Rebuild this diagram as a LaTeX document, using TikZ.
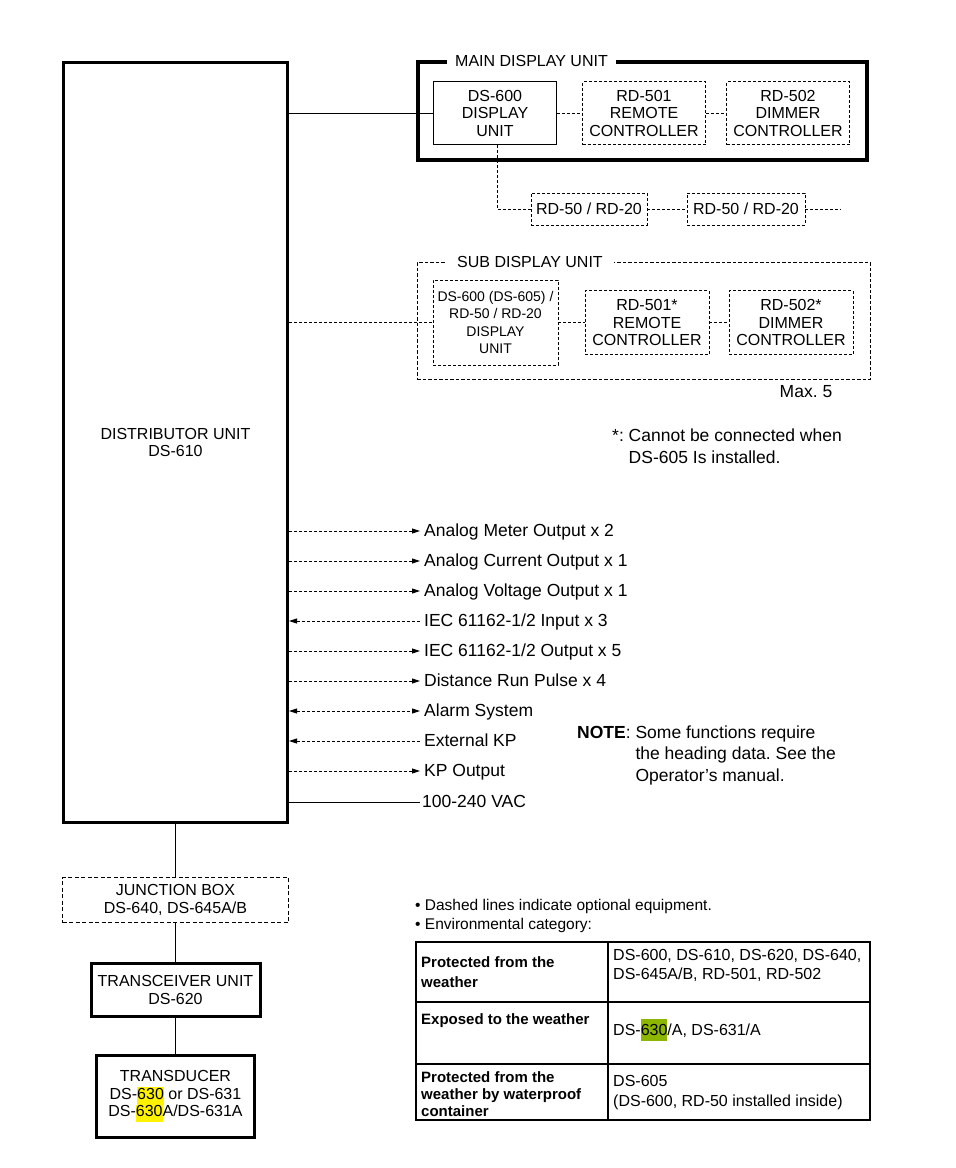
\documentclass[tikz,border=0pt]{standalone}
\usepackage{fontspec}
\setmainfont{Liberation Sans}
\frenchspacing
\usetikzlibrary{positioning,calc,arrows.meta}
\definecolor{hlgreen}{RGB}{141,182,0}
\newcommand{\hlyel}[1]{{\setlength{\fboxsep}{0pt}\colorbox{yellow}{\strut#1}}}
\newcommand{\hlgrn}[1]{{\setlength{\fboxsep}{0pt}\colorbox{hlgreen}{\rule[-6pt]{0pt}{22pt}#1}}}

\begin{document}
\begin{tikzpicture}[x=1pt,y=-1pt,
  >={Triangle[length=8pt,width=5pt]},
  boxtxt/.style={font=\fontsize{16}{17.5}\selectfont, align=center, inner sep=0pt},
  heavybox/.style={draw, line width=3pt, boxtxt},
  thinbox/.style={draw, line width=0.9pt, boxtxt},
  optbox/.style={draw, line width=0.9pt, dash pattern=on 3pt off 2pt, boxtxt},
  optline/.style={line width=0.9pt, dash pattern=on 3pt off 2pt},
  solidline/.style={line width=1pt},
  grptitle/.style={fill=white, inner ysep=3pt, font=\fontsize{16}{17.5}\selectfont},
  sigtxt/.style={font=\fontsize{17.5}{21}\selectfont, anchor=west, inner xsep=4pt, inner ysep=0pt, text height=12pt, text depth=1pt},
  notetxt/.style={font=\fontsize{17.5}{21.5}\selectfont, anchor=west, align=left, inner sep=0pt},
  cellhead/.style={font=\bfseries\fontsize{15}{20}\selectfont, anchor=west, align=left, inner sep=0pt},
  celltxt/.style={font=\fontsize{16}{19}\selectfont, anchor=west, align=left, inner sep=0pt}
]
\useasboundingbox (0,0) rectangle (956,1168);

% distributor
\node[heavybox, minimum width=224, minimum height=760] (dist) at (175.5,442.5) {DISTRIBUTOR UNIT\\DS-610};

% main display unit
\node[draw, line width=3.5pt, minimum width=449, minimum height=98] (maingrp) at (642.5,111) {};
\node[grptitle, inner xsep=8pt] (maintitle) at (531.5,61) {MAIN DISPLAY UNIT};
\node[thinbox, minimum width=123, minimum height=63] (ds600) at (495,113) {DS-600\\DISPLAY\\UNIT};
\node[optbox, minimum width=123, minimum height=63] (rd501) at (644,113) {RD-501\\REMOTE\\CONTROLLER};
\node[optbox, minimum width=123, minimum height=63] (rd502) at (788,113) {RD-502\\DIMMER\\CONTROLLER};
\draw[solidline] (dist.east |- ds600.west) -- (ds600);
\draw[optline] (ds600) -- (rd501);
\draw[optline] (rd501) -- (rd502);

% repeaters
\node[optbox, minimum width=116, minimum height=32] (rd50a) at (589,209) {RD-50 / RD-20};
\node[optbox, minimum width=118, minimum height=32] (rd50b) at (746,209) {RD-50 / RD-20};
\coordinate (rdmore) at (841,209);
\draw[optline] ([xshift=2pt]ds600.south) |- (rd50a.west);
\draw[optline] (rd50a) -- (rd50b);
\draw[optline] (rd50b) -- (rdmore);

% sub display unit
\node[draw, line width=0.9pt, dash pattern=on 3.5pt off 2pt, minimum width=453, minimum height=117] (subgrp) at (643.5,320.5) {};
\node[grptitle, inner xsep=11pt] (subtitle) at (530,262) {SUB DISPLAY UNIT};
\node[optbox, font=\fontsize{14}{17.6}\selectfont, minimum width=125, minimum height=85] (subds) at (495.5,322.5) {DS-600 (DS-605) /\\RD-50 / RD-20\\DISPLAY\\UNIT};
\node[optbox, minimum width=124, minimum height=64] (subrd501) at (647,322.5) {RD-501*\\REMOTE\\CONTROLLER};
\node[optbox, minimum width=124, minimum height=64] (subrd502) at (791,322.5) {RD-502*\\DIMMER\\CONTROLLER};
\draw[optline] (dist.east |- subds.west) -- (subds);
\draw[optline] (subds) -- (subrd501);
\draw[optline] (subrd501) -- (subrd502);
\node[notetxt, anchor=center] (maxfive) at (806,392) {Max. 5};
\node[notetxt] (starnote) at (612,446) {*: Cannot be connected when\\\phantom{*: }DS-605 Is installed.};

% signals
\node[sigtxt] (meter) at (420,531) {Analog Meter Output x 2};
\node[sigtxt] (current) at (420,561) {Analog Current Output x 1};
\node[sigtxt] (voltage) at (420,591) {Analog Voltage Output x 1};
\node[sigtxt] (iecin) at (420,621) {IEC 61162-1/2 Input x 3};
\node[sigtxt] (iecout) at (420,651) {IEC 61162-1/2 Output x 5};
\node[sigtxt] (pulse) at (420,681) {Distance Run Pulse x 4};
\node[sigtxt] (alarm) at (420,711) {Alarm System};
\node[sigtxt] (extkp) at (420,741) {External KP};
\node[sigtxt] (kpout) at (420,771) {KP Output};
\node[sigtxt, inner xsep=2pt] (power) at (420,802) {100-240 VAC};
\draw[optline, ->] (dist.east |- meter.west) -- (meter);
\draw[optline, ->] (dist.east |- current.west) -- (current);
\draw[optline, ->] (dist.east |- voltage.west) -- (voltage);
\draw[optline, <-] (dist.east |- iecin.west) -- (iecin);
\draw[optline, ->] (dist.east |- iecout.west) -- (iecout);
\draw[optline, ->] (dist.east |- pulse.west) -- (pulse);
\draw[optline, <->] (dist.east |- alarm.west) -- (alarm);
\draw[optline, <-] (dist.east |- extkp.west) -- (extkp);
\draw[optline, ->] (dist.east |- kpout.west) -- (kpout);
\draw[solidline] (dist.east |- power.west) -- (power);

\node[notetxt] (note) at (577,755) {\textbf{NOTE}: Some functions require\\\phantom{\textbf{NOTE}: }the heading data. See the\\\phantom{\textbf{NOTE}: }Operator’s manual.};

% sensor chain
\node[optbox, line width=1.5pt, dash pattern=on 4pt off 2.5pt, minimum width=226, minimum height=45] (junction) at (175.5,900) {JUNCTION BOX\\DS-640, DS-645A/B};
\node[heavybox, minimum width=169, minimum height=53] (xcvr) at (175.5,990) {TRANSCEIVER UNIT\\DS-620};
\node[heavybox, minimum width=158, minimum height=82] (xducer) at (175.5,1096.5) {TRANSDUCER\\DS-\hlyel{630} or DS-631\\DS-\hlyel{630}A/DS-631A};
\draw[solidline] (dist) -- (junction);
\draw[solidline] (junction) -- (xcvr);
\draw[solidline] (xcvr) -- (xducer);

% remarks
\node[celltxt, font=\fontsize{15.5}{19}\selectfont] (bul1) at (415,906.5) {\textbullet\ Dashed lines indicate optional equipment.};
\node[celltxt, font=\fontsize{15.5}{19}\selectfont] (bul2) at (415,925.5) {\textbullet\ Environmental category:};

% category table
\draw[line width=1.5pt] (416,942) rectangle (870,1120);
\draw[line width=1.5pt] (608,942) -- (608,1120);
\draw[line width=1.5pt] (416,1002) -- (870,1002);
\draw[line width=1.5pt] (416,1064) -- (870,1064);
\node[cellhead] (cat1) at (421,972) {Protected from the\\weather};
\node[celltxt] (dev1) at (613,965.5) {DS-600, DS-610, DS-620, DS-640,\\DS-645A/B, RD-501, RD-502};
\node[cellhead] (cat2) at (421,1021) {Exposed to the weather};
\node[celltxt] (dev2) at (613,1030) {DS-\hlgrn{630}/A, DS-631/A};
\node[cellhead, font=\bfseries\fontsize{15}{17}\selectfont] (cat3) at (421,1094) {Protected from the\\weather by waterproof\\container};
\node[celltxt, font=\fontsize{16}{20}\selectfont] (dev3) at (613,1093) {DS-605\\(DS-600, RD-50 installed inside)};
\end{tikzpicture}
\end{document}
